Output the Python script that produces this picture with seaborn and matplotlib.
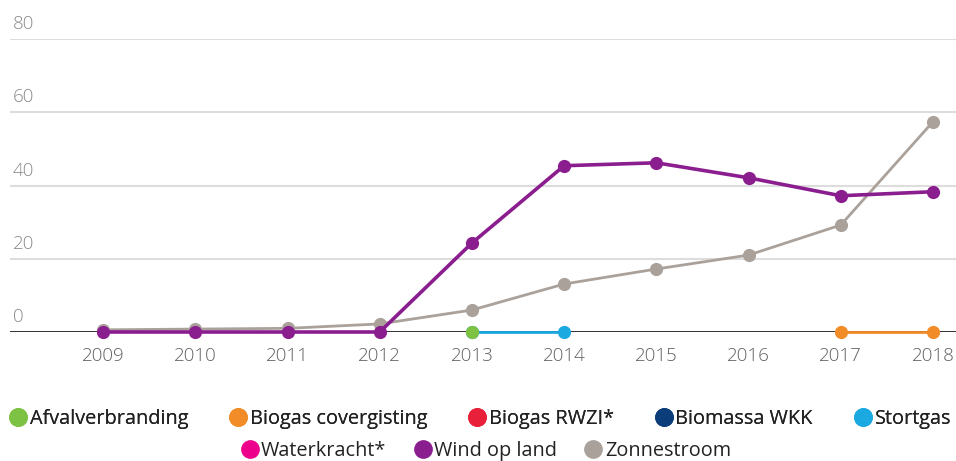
import matplotlib
matplotlib.use("Agg")
import matplotlib.pyplot as plt
import seaborn as sns
import pandas as pd
import numpy as np
from matplotlib.lines import Line2D

sns.set_style("white")
plt.rcParams['font.family'] = ['Open Sans', 'DejaVu Sans']

years = [2009, 2010, 2011, 2012, 2013, 2014, 2015, 2016, 2017, 2018]
series_names = ["Afvalverbranding", "Biogas covergisting", "Biogas RWZI*", "Biomassa WKK",
                "Stortgas", "Waterkracht*", "Wind op land", "Zonnestroom"]
colors = ["#7dc242", "#f28c28", "#e8203a", "#0b3d7a", "#1ba9e1", "#ec008c", "#8b1e8f", "#aaa19b"]

afval_years = [2013]
afval_vals = [0.0]
covergisting_years = [2017, 2018]
covergisting_vals = [0.0, 0.0]
stortgas_years = [2013, 2014]
stortgas_vals = [0.0, 0.0]
wind_vals = [0.0, 0.0, 0.0, 0.0, 24.3, 45.4, 46.2, 42.1, 37.2, 38.3]
zon_vals = [0.6, 0.8, 1.0, 2.2, 6.0, 13.1, 17.2, 21.0, 29.2, 57.4]

yticks = [0, 20, 40, 60, 80]

rows = []
for y, v in zip(years, zon_vals):
    rows.append(("Zonnestroom", y, v))
for y, v in zip(years, wind_vals):
    rows.append(("Wind op land", y, v))
for y, v in zip(stortgas_years, stortgas_vals):
    rows.append(("Stortgas", y, v))
for y, v in zip(afval_years, afval_vals):
    rows.append(("Afvalverbranding", y, v))
for y, v in zip(covergisting_years, covergisting_vals):
    rows.append(("Biogas covergisting", y, v))
df = pd.DataFrame(rows, columns=["series", "year", "value"])

palette = dict(zip(series_names, colors))

fig = plt.figure(figsize=(9.56, 4.61), dpi=100)
ax = fig.add_axes([10/956, (461-332)/461, 946/956, (332-39)/461])

ax.set_xlim(2007.99, 2018.25)
ax.set_ylim(0, 80)

for y in yticks[1:]:
    ax.axhline(y, color="#dddddd", lw=1.5, zorder=0)
ax.axhline(0, color="#222222", lw=1.3, zorder=1)

widths = {"Zonnestroom": 2.0, "Wind op land": 2.6, "Stortgas": 2.0,
          "Afvalverbranding": 2.0, "Biogas covergisting": 2.0}
for i, name in enumerate(["Zonnestroom", "Wind op land", "Stortgas", "Afvalverbranding", "Biogas covergisting"]):
    sub = df[df.series == name]
    sns.lineplot(data=sub, x="year", y="value", color=palette[name], marker="o",
                 markersize=9.5, markeredgewidth=0, lw=widths[name], ax=ax,
                 legend=False, zorder=3 + i, clip_on=False)

for s in ax.spines.values():
    s.set_visible(False)
ax.set_xlabel("")
ax.set_ylabel("")
ax.set_xticks(years)
ax.set_xticklabels([str(y) for y in years], color="#606060", fontsize=13.5, fontweight="light")
ax.tick_params(axis="x", length=0, pad=11)
ax.set_yticks([])
for y in yticks:
    ax.text(0.003, y + 1.6, str(y), transform=ax.get_yaxis_transform(),
            color="#8a8a8a", fontsize=13.5, fontweight="light", ha="left", va="bottom")

def handles(names):
    return [Line2D([0], [0], marker="o", color="none", markerfacecolor=palette[n],
                   markeredgewidth=0, markersize=13.5, label=n) for n in names]

leg_kw = dict(loc="center", frameon=False, fontsize=14.3, handlelength=0.75,
              handletextpad=0.2, labelcolor="#222222",
              borderpad=0, borderaxespad=0)
leg1 = fig.legend(handles=handles(series_names[:5]), ncol=5, columnspacing=2.15,
                  bbox_to_anchor=(0.503, (461-419)/461), **leg_kw)
fig.add_artist(leg1)
leg2 = fig.legend(handles=handles(series_names[5:]), ncol=3, columnspacing=1.45,
                  bbox_to_anchor=(0.509, (461-451)/461), **leg_kw)

fig.savefig("out.png", dpi=100)
